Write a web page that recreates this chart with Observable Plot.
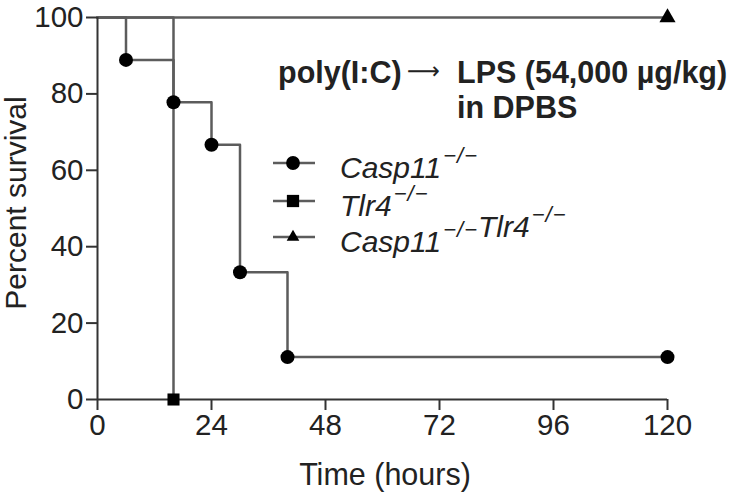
<!DOCTYPE html>
<html>
<head>
<meta charset="utf-8">
<script src="https://cdn.jsdelivr.net/npm/d3@7"></script>
<script src="https://cdn.jsdelivr.net/npm/@observablehq/plot@0.6"></script>
<style>
  html, body { margin: 0; padding: 0; background: #fff; }
  #wrap { position: relative; width: 740px; height: 498px; }
  #wrap svg.overlay { position: absolute; left: 0; top: 0; pointer-events: none; overflow: visible; }
</style>
</head>
<body>
<div id="wrap"></div>
<script>
// ---- data ----
const groups = ["Casp11", "Tlr4", "Casp11Tlr4"];
const casp11Time = [0, 6, 16, 24, 30, 40, 120];
const casp11Surv = [100, 88.9, 77.8, 66.7, 33.3, 11.1, 11.1];
const tlr4Time = [0, 16];
const tlr4Surv = [100, 0];
const dkoTime = [0, 120];
const dkoSurv = [100, 100];
const xTicks = [0, 24, 48, 72, 96, 120];
const yTicks = [0, 20, 40, 60, 80, 100];
const symbols = ["circle", "square", "triangle"];

const lineData = [
  ...casp11Time.map((t, i) => ({group: groups[0], t, s: casp11Surv[i], idx: i})),
  ...tlr4Time.map((t, i) => ({group: groups[1], t, s: tlr4Surv[i], idx: i})),
  ...dkoTime.map((t, i) => ({group: groups[2], t, s: dkoSurv[i], idx: i}))
];
const markData = lineData.filter(d => d.idx > 0);

const lineColor = "#5c5c5c";
const axisColor = "#333";
const font = "'Liberation Sans', Arial, sans-serif";

const W = 740, H = 498;
const plot = Plot.plot({
  width: W, height: H,
  marginLeft: 97, marginRight: 73, marginTop: 17, marginBottom: 99,
  style: {fontFamily: font, fontSize: "29.5px", color: "#222", background: "#fff", overflow: "visible"},
  x: {domain: [0, 120], ticks: xTicks, label: null},
  y: {domain: [0, 100], ticks: yTicks, label: null},
  symbol: {domain: groups, range: symbols},
  marks: [
    Plot.line(lineData, {x: "t", y: "s", z: "group", curve: "step-after", stroke: lineColor, strokeWidth: 2.5}),
    Plot.ruleY([0], {stroke: axisColor, strokeWidth: 2}),
    Plot.ruleX([0], {stroke: axisColor, strokeWidth: 2}),
    Plot.axisX({ticks: xTicks, tickSize: 11, tickPadding: 4, stroke: axisColor, strokeWidth: 2, label: null}),
    Plot.axisY({ticks: yTicks, tickSize: 11, tickPadding: 3, stroke: axisColor, strokeWidth: 2, label: null}),
    Plot.dot(markData.filter(d => d.group === groups[0]), {x: "t", y: "s", symbol: "group", r: 7, fill: "#000", stroke: "none"}),
    Plot.dot(markData.filter(d => d.group === groups[1]), {x: "t", y: "s", symbol: "group", r: 6.8, fill: "#000", stroke: "none"}),
    Plot.dot(markData.filter(d => d.group === groups[2]), {x: "t", y: "s", symbol: "group", r: 6, fill: "#000", stroke: "none"})
  ]
});
const wrap = document.getElementById("wrap");
wrap.appendChild(plot);

// ---- overlay: axis titles, annotation, legend ----
const ov = d3.select(wrap).append("svg").attr("class", "overlay")
  .attr("width", W).attr("height", H)
  .style("font-family", font).style("fill", "#222");

ov.append("text").attr("x", 385).attr("y", 485).attr("text-anchor", "middle")
  .attr("font-size", 30.5).text("Time (hours)");
ov.append("text").attr("transform", "translate(26,203) rotate(-90)").attr("text-anchor", "middle")
  .attr("font-size", 30).text("Percent survival");

ov.append("text").attr("x", 278).attr("y", 83).attr("font-size", 30.5).attr("font-weight", "bold")
  .text("poly(I:C)");
ov.append("text").attr("x", 407).attr("y", 79).attr("font-size", 24)
  .attr("font-family", "'DejaVu Sans', sans-serif")
  .attr("textLength", 33).attr("lengthAdjust", "spacingAndGlyphs").text("\u27f6");
ov.append("text").attr("x", 457).attr("y", 83).attr("font-size", 30.5).attr("font-weight", "bold")
  .text("LPS (54,000 \u00b5g/kg)");
ov.append("text").attr("x", 457).attr("y", 118).attr("font-size", 30.5).attr("font-weight", "bold")
  .text("in DPBS");

const legendRows = [
  {sym: d3.symbolCircle, size: 150, y: 163, parts: ["Casp11"]},
  {sym: d3.symbolSquare, size: 150, y: 201, parts: ["Tlr4"]},
  {sym: d3.symbolTriangle2, size: 115, y: 237, parts: ["Casp11", "Tlr4"]}
];
legendRows.forEach(r => {
  const g = ov.append("g");
  g.append("line").attr("x1", 273).attr("x2", 315).attr("y1", r.y).attr("y2", r.y)
    .attr("stroke", lineColor).attr("stroke-width", 2.5);
  g.append("path").attr("transform", `translate(293,${r.y})`).attr("d", d3.symbol(r.sym, r.size)()).attr("fill", "#000");
  const t = g.append("text").attr("x", 340).attr("y", r.y + 15).attr("font-size", 30).attr("font-style", "italic");
  r.parts.forEach(name => {
    t.append("tspan").text(name);
    t.append("tspan").attr("font-size", 22).attr("dx", 2).attr("dy", -15).attr("letter-spacing", 1).text("\u2212/\u2212");
    t.append("tspan").attr("dy", 15).attr("font-size", 30).text("");
  });
});
</script>
</body>
</html>
